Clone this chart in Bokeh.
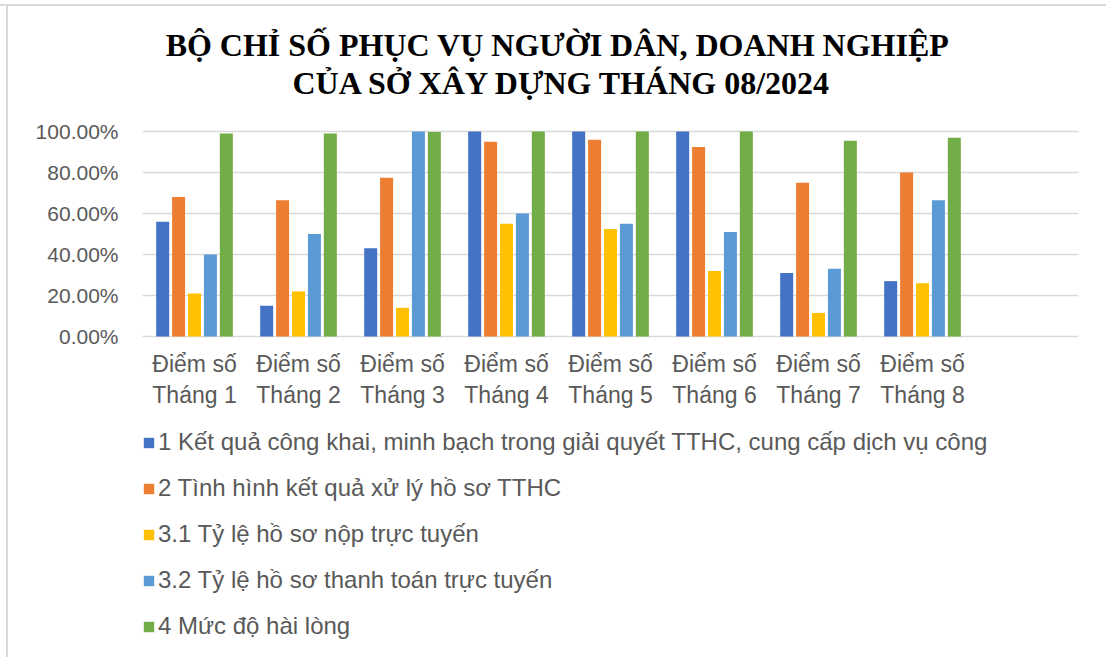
from bokeh.plotting import figure
from bokeh.models import (FactorRange, Range1d, Legend, LegendItem, NumeralTickFormatter,
                          FixedTicker, Label, ColumnDataSource)
from bokeh.core.properties import value
from bokeh.transform import dodge
from bokeh.embed import file_html
from bokeh.resources import INLINE

# ---- data ----
months = ["Tháng 1", "Tháng 2", "Tháng 3", "Tháng 4",
          "Tháng 5", "Tháng 6", "Tháng 7", "Tháng 8"]
label_prefix = "Điểm số"
spare_slot = " "          # empty category at the right end

series_names = [
    "1 Kết quả công khai, minh bạch trong giải quyết TTHC, cung cấp dịch vụ công",
    "2 Tình hình kết quả xử lý hồ sơ TTHC",
    "3.1 Tỷ lệ hồ sơ nộp trực tuyến",
    "3.2 Tỷ lệ hồ sơ thanh toán trực tuyến",
    "4 Mức độ hài lòng",
]
s1 = [0.56, 0.15, 0.43, 1.00, 1.00, 1.00, 0.31, 0.27]
s2 = [0.68, 0.665, 0.775, 0.95, 0.96, 0.925, 0.75, 0.80]
s3 = [0.21, 0.22, 0.14, 0.55, 0.525, 0.32, 0.115, 0.26]
s4 = [0.40, 0.50, 1.00, 0.60, 0.55, 0.51, 0.33, 0.665]
s5 = [0.99, 0.99, 0.997, 1.00, 1.00, 1.00, 0.955, 0.97]
series_values = [s1, s2, s3, s4, s5]
colors = ["#4472C4", "#ED7D31", "#FFC000", "#5B9BD5", "#70AD47"]

y_ticks = [0, 0.2, 0.4, 0.6, 0.8, 1.0]
title_line1 = "BỘ CHỈ SỐ PHỤC VỤ NGƯỜI DÂN, DOANH NGHIỆP"
title_line2 = "CỦA SỞ XÂY DỰNG THÁNG 08/2024"

TEXT = "#595959"
GRID = "#D9D9D9"
FONT = "Liberation Sans"

# ---- layout geometry (pixels) ----
W, H = 1106, 657
PLOT_TOP, PLOT_BOTTOM = 131, 336          # pixel rows of 100 % and 0 %
PX = (PLOT_BOTTOM - PLOT_TOP) / 1.0       # pixels per unit of value


def py(pixel_row):
    """data-y for a pixel row of the page"""
    return (PLOT_BOTTOM - pixel_row) / PX


factors = [m for m in months]

p = figure(width=W, height=H,
           x_range=FactorRange(*factors, spare_slot),
           y_range=Range1d(py(H), py(0)),
           output_backend="svg", toolbar_location=None,
           min_border_left=142, min_border_right=28,
           min_border_top=0, min_border_bottom=0)
p.outline_line_color = None
p.background_fill_alpha = 0
p.border_fill_alpha = 0
p.styles = {"background": "linear-gradient(#D9D9D9,#D9D9D9) 0px 4px / 100% 2px no-repeat, "
                          "linear-gradient(#D9D9D9,#D9D9D9) 6px 4px / 2px 100% no-repeat, white"}

src = ColumnDataSource(dict(month=factors, **{f"s{i}": v for i, v in enumerate(series_values)}))

pitch = 0.153
renderers = []
for i, (name, col) in enumerate(zip(series_names, colors)):
    r = p.vbar(x=dodge("month", (i - 2) * pitch, range=p.x_range), top=f"s{i}",
               width=0.125, source=src, fill_color=col, line_color=None)
    renderers.append(r)

# y axis
p.yaxis.ticker = FixedTicker(ticks=y_ticks)
p.yaxis.formatter = NumeralTickFormatter(format="0.00%")
p.yaxis.axis_line_color = None
p.yaxis.major_tick_line_color = None
p.yaxis.minor_tick_line_color = None
p.yaxis.major_label_standoff = 18
p.yaxis.major_label_text_font = FONT
p.yaxis.major_label_text_font_size = "21px"
p.yaxis.major_label_text_color = TEXT

p.xaxis.visible = False
p.xgrid.grid_line_color = None
p.ygrid.grid_line_color = GRID
p.ygrid.grid_line_width = 1.5

# category labels (two lines)
lab_src = ColumnDataSource(dict(month=factors, l1=[label_prefix] * len(months), l2=months))
for col, row in [("l1", 363), ("l2", 394)]:
    p.text(x="month", y=py(row), text=col, source=lab_src,
           text_font=value(FONT), text_font_size="23px", text_color=TEXT,
           text_align="center", text_baseline="middle")

# title (two centred lines)
for txt, cx, cy in [(title_line1, 557, 44), (title_line2, 562, 82)]:
    p.add_layout(Label(x=cx - 142, y=H - cy, x_units="screen", y_units="screen", text=txt,
                       text_font="Liberation Serif", text_font_style="bold",
                       text_font_size="32px", text_color="black",
                       text_align="center", text_baseline="middle"))

legend = Legend(items=[LegendItem(label=n, renderers=[r]) for n, r in zip(series_names, renderers)],
                location=(0, 17), orientation="vertical")
legend.label_text_font = FONT
legend.label_text_font_size = "24px"
legend.label_text_color = TEXT
legend.glyph_width = 13
legend.glyph_height = 13
legend.label_standoff = 3
legend.label_height = 27
legend.spacing = 18
legend.padding = 0
legend.margin = 0
legend.border_line_color = None
legend.background_fill_alpha = 0
p.add_layout(legend, "center")

open("out.html", "w").write(file_html(p, INLINE))
